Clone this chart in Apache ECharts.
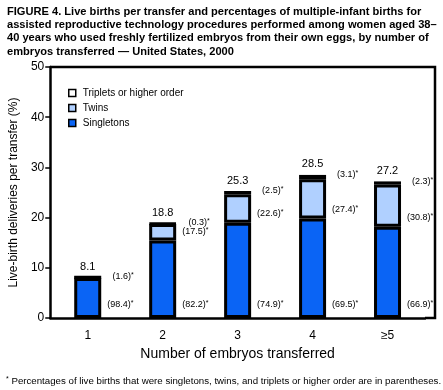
<!DOCTYPE html>
<html>
<head>
<meta charset="utf-8">
<script src="https://cdn.jsdelivr.net/npm/echarts@6/dist/echarts.min.js"></script>
<style>
  html, body { margin: 0; padding: 0; background: #fff; }
  #chart { width: 443px; height: 390px; }
</style>
</head>
<body>
<div id="chart"></div>
<script>
// data
var categories = ['1', '2', '3', '4', '≥5'];
var totals = [8.1, 18.8, 25.3, 28.5, 27.2];
var singletons = [7.97, 15.45, 18.95, 19.81, 18.20];
var twins = [0.13, 3.29, 5.72, 7.81, 8.38];
var triplets = [0, 0.06, 0.63, 0.88, 0.63];
var pctSingle = ['98.4', '82.2', '74.9', '69.5', '66.9'];
var pctTwins = ['1.6', '17.5', '22.6', '27.4', '30.8'];
var pctTriplets = ['', '0.3', '2.5', '3.1', '2.3'];

var FONT = '"Liberation Sans", Arial, sans-serif';
var pctRich = {
  n: { fontFamily: FONT, fontSize: 9, color: '#000' },
  s: { fontFamily: FONT, fontSize: 7, color: '#000', padding: [0, 0, 3, 0] }
};
function pctText(v) {
  return v ? '{n|(' + v + ')}{s|*}' : '';
}

var chart = echarts.init(document.getElementById('chart'), null, { renderer: 'canvas' });

var barStyle = function (color) {
  return { color: color, borderColor: '#000', borderWidth: 3 };
};

// twins label sits just above the singleton segment, except bar 1 (at the top)
var twinsData = twins.map(function (v, i) {
  if (i === 0) {
    return { value: v, label: { position: ['100%', 0], offset: [10, 0] } };
  }
  return v;
});

var option = {
  animation: false,
  title: [{
    text: 'FIGURE 4. Live births per transfer and percentages of multiple-infant births for\n' +
      'assisted reproductive technology procedures performed among women aged 38–\n' +
      '40 years who used freshly fertilized embryos from their own eggs, by number of\n' +
      'embryos transferred — United States, 2000',
    left: 2,
    top: 0,
    textStyle: { fontFamily: FONT, fontSize: 11.1, fontWeight: 'bold', color: '#000', lineHeight: 13.3 }
  }, {
    text: '{s|*} Percentages of live births that were singletons, twins, and triplets or higher order are in parentheses.',
    left: 1,
    top: 371,
    textStyle: {
      fontFamily: FONT, fontSize: 9.7, fontWeight: 'normal', color: '#000',
      rich: {
        s: { fontFamily: FONT, fontSize: 7, padding: [0, 0, 3, 0] }
      }
    }
  }],
  legend: {
    data: ['Triplets or higher order', 'Twins', 'Singletons'],
    orient: 'vertical',
    left: 63,
    top: 83,
    icon: 'rect',
    itemWidth: 7,
    itemHeight: 7,
    itemGap: 5,
    selectedMode: false,
    itemStyle: { borderColor: '#000', borderWidth: 1.5 },
    textStyle: { fontFamily: FONT, fontSize: 10, color: '#000', padding: [0, 0, 0, 2] }
  },
  grid: { left: 50, right: 18, top: 67, bottom: 72 },
  xAxis: {
    type: 'category',
    data: categories,
    name: 'Number of embryos transferred',
    nameLocation: 'middle',
    nameGap: 29,
    nameTextStyle: { fontFamily: FONT, fontSize: 14, color: '#000' },
    axisLine: { lineStyle: { color: '#000', width: 2.5 } },
    axisTick: { alignWithLabel: true, length: 6, lineStyle: { color: '#000', width: 2.5 } },
    axisLabel: { fontFamily: FONT, fontSize: 12, color: '#000', margin: 12 }
  },
  yAxis: {
    type: 'value',
    min: 0,
    max: 50,
    interval: 10,
    name: 'Live-birth deliveries per transfer (%)',
    nameLocation: 'middle',
    nameGap: 30,
    nameTextStyle: { fontFamily: FONT, fontSize: 12, color: '#000' },
    axisLine: { show: true, lineStyle: { color: '#000', width: 2.5 } },
    axisTick: { show: true, length: 5, lineStyle: { color: '#000', width: 1.5 } },
    axisLabel: { fontFamily: FONT, fontSize: 12, color: '#000', margin: 6 },
    splitLine: { show: false }
  },
  graphic: [{
    type: 'polyline',
    shape: { points: [[50, 67], [435, 67], [435, 318], [425, 318]] },
    style: { stroke: '#000', lineWidth: 2.5, fill: null },
    silent: true
  }],
  series: [{
    name: 'Singletons',
    type: 'bar',
    stack: 'total',
    barWidth: 27,
    data: singletons,
    itemStyle: barStyle('#0a64f5'),
    label: {
      show: true,
      position: ['100%', '100%'],
      offset: [6, -13],
      align: 'left',
      verticalAlign: 'middle',
      formatter: function (p) { return pctText(pctSingle[p.dataIndex]); },
      rich: pctRich
    }
  }, {
    name: 'Twins',
    type: 'bar',
    stack: 'total',
    data: twinsData,
    itemStyle: barStyle('#b0d0ff'),
    label: {
      show: true,
      position: ['100%', '100%'],
      offset: [6, -9],
      align: 'left',
      verticalAlign: 'middle',
      formatter: function (p) { return pctText(pctTwins[p.dataIndex]); },
      rich: pctRich
    }
  }, {
    name: 'Triplets or higher order',
    type: 'bar',
    stack: 'total',
    data: triplets,
    itemStyle: barStyle('#ffffff'),
    label: {
      show: true,
      position: ['100%', 0],
      offset: [11, 0],
      align: 'left',
      verticalAlign: 'middle',
      formatter: function (p) { return pctText(pctTriplets[p.dataIndex]); },
      rich: pctRich
    }
  }, {
    name: 'total',
    type: 'bar',
    stack: 'total',
    silent: true,
    data: totals.map(function () { return 0; }),
    itemStyle: { color: 'rgba(0,0,0,0)', borderWidth: 0 },
    label: {
      show: true,
      position: 'top',
      distance: 5,
      fontFamily: FONT,
      fontSize: 11,
      color: '#000',
      formatter: function (p) { return totals[p.dataIndex].toFixed(1); }
    }
  }]
};

chart.setOption(option);
</script>
</body>
</html>
